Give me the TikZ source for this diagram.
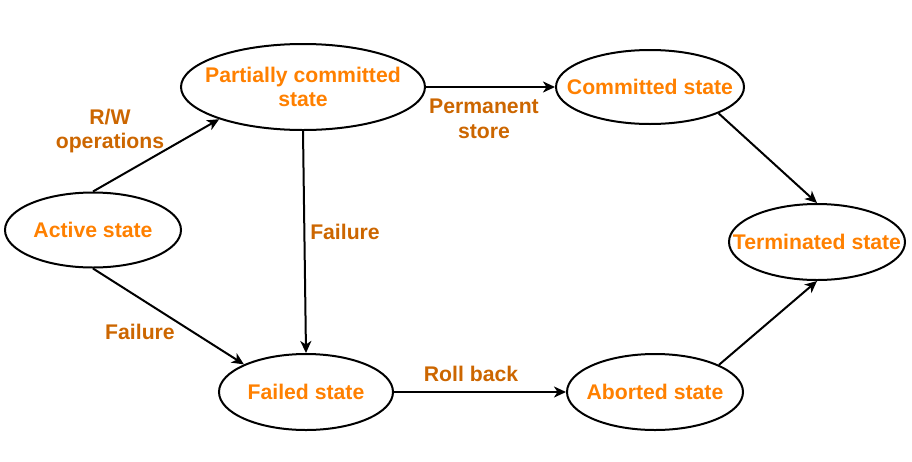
\documentclass[tikz,border=0pt]{standalone}
\usepackage{fontspec}
\setmainfont{Liberation Sans}
\usepackage{tikz}
\usetikzlibrary{arrows.meta,positioning,calc,shapes.geometric}

\definecolor{statecol}{HTML}{FF8000}
\definecolor{labelcol}{HTML}{CC6600}

\begin{document}
\begin{tikzpicture}[x=1pt,y=-1pt,
    every node/.style={font=\fontsize{21.2}{24.5}\selectfont\bfseries},
    state/.style={ellipse,draw,line width=2pt,text=statecol,align=center,
        inner xsep=-40pt,inner ysep=0pt},
    edgelabel/.style={text=labelcol,align=center,inner sep=0pt},
    trans/.style={-{Stealth[length=12pt,width=11pt,inset=3.5pt]},line width=2pt}]
    \useasboundingbox (0,0) rectangle (912,461);

    \node[state,minimum width=176pt,minimum height=75pt] (act) at (93,230) {Active state};
    \node[state,minimum width=244pt,minimum height=86pt] (pc) at (303,87) {Partially committed\\state};
    \node[state,minimum width=188pt,minimum height=74pt] (cm) at (650,87) {Committed state};
    \node[state,minimum width=176pt,minimum height=76pt] (tm) at (817,242) {Terminated state};
    \node[state,minimum width=174pt,minimum height=76pt] (fl) at (306,392) {Failed state};
    \node[state,minimum width=176pt,minimum height=76pt] (ab) at (655,392) {Aborted state};

    \draw[trans] (act.north) -- (pc.201);
    \draw[trans] (act.south) -- (fl.156);
    \draw[trans] (pc.south) -- (fl.north);
    \draw[trans] (pc.east) -- (cm.west);
    \draw[trans] (cm.-21) -- (tm.north);
    \draw[trans] (fl.east) -- (ab.west);
    \draw[trans] (ab.23) -- (tm.south);

    \node[edgelabel] (rw) at (110,131) {R/W\\operations};
    \node[edgelabel] (fail1) at (140,332) {Failure};
    \node[edgelabel] (fail2) at (345,232) {Failure};
    \node[edgelabel] (perm) at (484,119) {Permanent\\store};
    \node[edgelabel] (roll) at (471,374) {Roll back};
\end{tikzpicture}
\end{document}
